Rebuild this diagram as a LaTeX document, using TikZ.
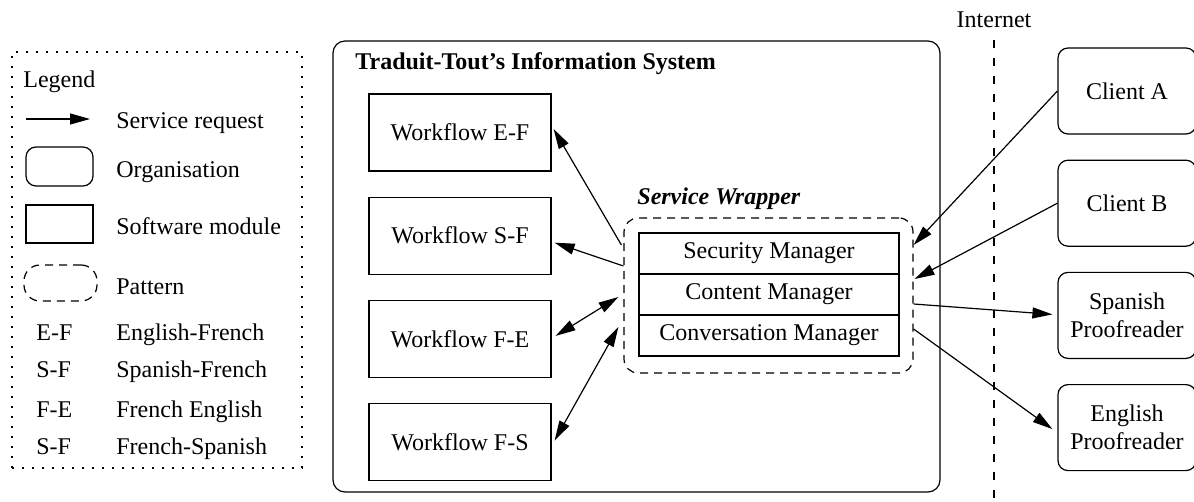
\documentclass[tikz,border=0pt]{standalone}
\usepackage{fontspec}
\setmainfont{Liberation Serif}
\usetikzlibrary{arrows.meta,positioning,calc}
\tikzset{
	modbox/.style={draw, line width=0.6pt, minimum width=91pt, minimum height=38.5pt, align=center, inner sep=2pt},
	orgbox/.style={draw, rounded corners=5pt, line width=0.6pt, minimum width=69pt, minimum height=43pt, align=center, inner sep=2pt},
	mgrbox/.style={draw, line width=0.6pt, minimum width=130pt, minimum height=20.5pt, inner sep=0pt, outer sep=0pt},
	patbox/.style={draw, dash pattern=on 4pt off 3pt, rounded corners=7pt, line width=0.6pt, inner sep=0pt},
	req/.style={-{Triangle[length=10pt,width=5.5pt]}, line width=0.6pt},
	duplex/.style={{Triangle[length=10pt,width=5.5pt]}-{Triangle[length=10pt,width=5.5pt]}, line width=0.6pt},
	legtext/.style={anchor=base west, inner sep=0pt}
}
\begin{document}
\begin{tikzpicture}[x=0.5pt, y=-0.5pt, font=\fontsize{12}{14}\selectfont, node distance=12.5pt]
	\useasboundingbox (0,0) rectangle (1194,502);
	
	% legend
	\node[draw, dash pattern=on 0.8pt off 4.2pt, line width=0.6pt, minimum width=145pt, minimum height=208pt] (legend) at (157,260) {};
	\node[legtext] (legtitle) at (23,88) {Legend};
	\coordinate (reqA) at (26,119);
	\coordinate (reqB) at (90,119);
	\draw[req] (reqA) -- (reqB);
	\node[legtext] (legreq) at (116,129) {Service request};
	\node[orgbox, minimum width=33.5pt, minimum height=19.5pt] (legorg) at (59.5,166.5) {};
	\node[legtext] (legorgtxt) at (116,178) {Organisation};
	\node[modbox, minimum width=33.5pt, minimum height=19pt] (legmod) at (59.5,224) {};
	\node[legtext] (legmodtxt) at (116,235) {Software module};
	\node[patbox, rounded corners=8pt, minimum width=36.5pt, minimum height=18pt] (legpat) at (60.5,283) {};
	\node[legtext] (legpattxt) at (116,294) {Pattern};
	\node[legtext] (abEF) at (36,340) {E-F};
	\node[legtext] (abEFtxt) at (116,340) {English-French};
	\node[legtext] (abSF) at (36,377) {S-F};
	\node[legtext] (abSFtxt) at (116,377) {Spanish-French};
	\node[legtext] (abFE) at (36,417) {F-E};
	\node[legtext] (abFEtxt) at (116,417) {French English};
	\node[legtext] (abFS) at (36,454) {S-F};
	\node[legtext] (abFStxt) at (116,454) {French-Spanish};
	
	% information system
	\node[draw, rounded corners=6pt, line width=0.6pt, minimum width=303.5pt, minimum height=225.5pt] (isys) at (636.5,266.5) {};
	\node[legtext, font=\fontsize{12}{14}\selectfont\bfseries] (istitle) at (355,70) {Traduit-Tout’s Information System};
	
	\node[modbox] (wfEF) at (460,132.5) {Workflow E-F};
	\node[modbox, below=of wfEF] (wfSF) {Workflow S-F};
	\node[modbox, below=of wfSF] (wfFE) {Workflow F-E};
	\node[modbox, below=of wfFE] (wfFS) {Workflow F-S};
	
	% service wrapper
	\node[patbox, minimum width=144.5pt, minimum height=77.5pt] (wrap) at (768.5,295.5) {};
	\node[legtext, font=\fontsize{12}{14}\selectfont\bfseries\itshape] (wraplabel) at (637,205) {Service Wrapper};
	\node[mgrbox] (mgrSec) at (769,253.5) {Security Manager};
	\node[mgrbox, below=0pt of mgrSec] (mgrCon) {Content Manager};
	\node[mgrbox, below=0pt of mgrCon] (mgrConv) {Conversation Manager};
	
	% internet
	\node[anchor=base, inner sep=0pt] (net) at (994,28) {Internet};
	\coordinate (netend) at (994,502);
	\draw[dash pattern=on 4pt off 5pt, line width=0.6pt] ([yshift=-5.5pt]net.south) -- (netend);
	
	% partners
	\node[orgbox] (cliA) at (1127,91) {Client A};
	\node[orgbox, below=of cliA] (cliB) {Client B};
	\node[orgbox, below=of cliB] (spanPR) {Spanish\\Proofreader};
	\node[orgbox, below=of spanPR] (engPR) {English\\Proofreader};
	
	\draw[req] (cliA.west) -- ($(wrap.east)+(0,-50.5)$);
	\draw[req] (cliB.west) -- ($(wrap.east)+(1,-16.5)$);
	\draw[req] ($(wrap.east)+(0,8.5)$) -- ($(spanPR.west)+(-5,-1)$);
	\draw[req] ($(wrap.east)+(0,33.5)$) -- ($(engPR.west)+(-5,1.5)$);
	
	\draw[req] ($(wrap.west)+(-2,-50.5)$) -- ($(wfEF.east)+(2,-3.5)$);
	\draw[req] ($(wrap.west)+(0,-29.5)$) -- ($(wfSF.east)+(3,7)$);
	\draw[duplex] ($(wfFE.east)+(4,-3)$) -- ($(wrap.west)+(-5,1.5)$);
	\draw[duplex] ($(wfFS.east)+(3,-1.5)$) -- ($(wrap.west)+(-5,31.5)$);
\end{tikzpicture}
\end{document}
